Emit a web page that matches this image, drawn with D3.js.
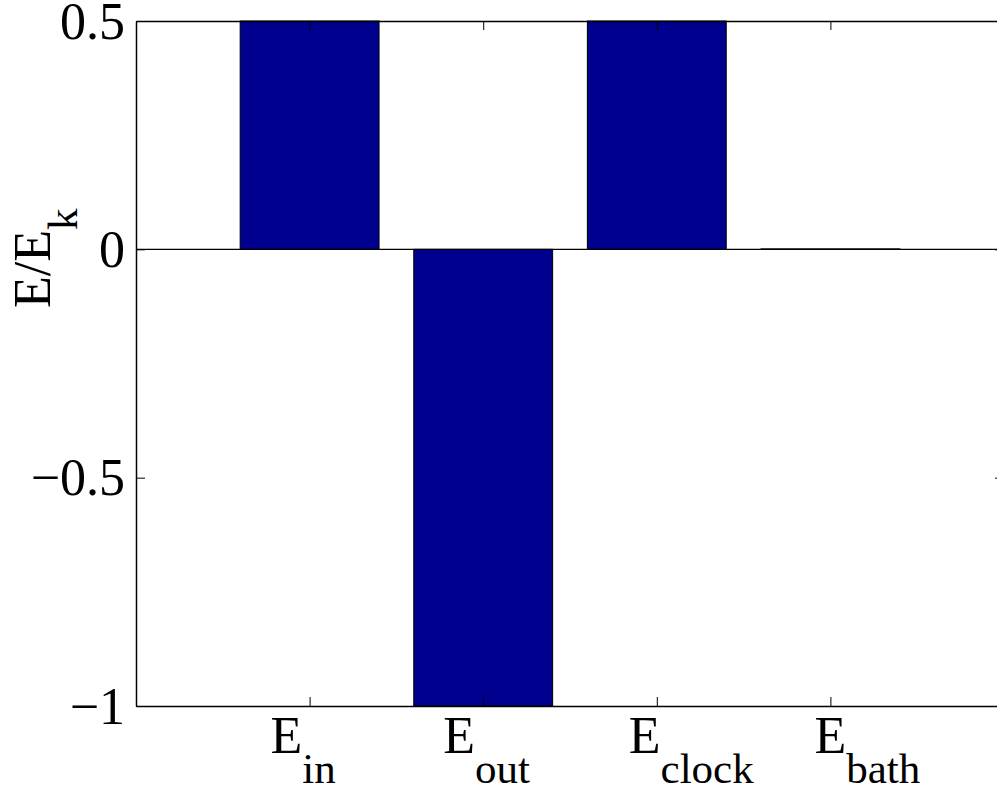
<!DOCTYPE html>
<html>
<head>
<meta charset="utf-8">
<script src="https://cdn.jsdelivr.net/npm/d3@7/dist/d3.min.js"></script>
<style>
  html, body { margin: 0; padding: 0; background: #fff; overflow: hidden; }
  svg { display: block; }
</style>
</head>
<body>
<svg id="chart" width="997" height="792"></svg>
<script>
// Energy balance, normalised by E_k
const categories = ["in", "out", "clock", "bath"];   // subscripts of E
const energies   = [0.5, -1.0, 0.5, 0.001];
const yTicks     = [-1, -0.5, 0, 0.5];

// layout
const plot = { left: 136, top: 21, bottom: 706, unit: 173.6 };
const barFill = "#00008f";
const serif = "Liberation Serif";
const mainSize = 52, subSize = 43;
const labelNudge = [-39, -40, -28, -16];   // horizontal shift of each tick label's "E"

const svg = d3.select("#chart");

const x = d3.scaleLinear()
  .domain([0, categories.length + 1])
  .range([plot.left, plot.left + plot.unit * (categories.length + 1)]);
const y = d3.scaleLinear()
  .domain([-1, 0.5])
  .range([plot.bottom, plot.top]);

const idx = categories.map((d, i) => i + 1);
const barW = x(0.8) - x(0);

// bars
svg.append("g").selectAll("rect")
  .data(energies)
  .join("rect")
  .attr("x", (d, i) => x(idx[i]) - barW / 2)
  .attr("width", barW)
  .attr("y", d => y(Math.max(d, 0)))
  .attr("height", d => Math.abs(y(d) - y(0)))
  .attr("fill", barFill)
  .attr("stroke", "#000")
  .attr("stroke-width", 1);

// baseline at zero
svg.append("line")
  .attr("x1", x(0)).attr("x2", x(categories.length + 1))
  .attr("y1", y(0)).attr("y2", y(0))
  .attr("stroke", "#000").attr("stroke-width", 1.2);

const fmt = v => (v < 0 ? "\u2212" : "") + d3.format("")(Math.abs(v));

// left axis with labels, ticks pointing inward
const gl = svg.append("g").attr("transform", `translate(${plot.left},0)`)
  .call(d3.axisLeft(y).tickValues(yTicks).tickSizeInner(-9).tickSizeOuter(0)
    .tickPadding(11).tickFormat(fmt));
gl.attr("font-family", serif);
gl.selectAll("text")
  .attr("font-family", serif)
  .attr("font-size", mainSize)
  .attr("fill", "#000")
  .attr("dy", "0.33em");

// right axis (ticks only)
svg.append("g").attr("transform", `translate(${x(categories.length + 1)},0)`)
  .call(d3.axisRight(y).tickValues(yTicks).tickSizeInner(-9).tickSizeOuter(0).tickFormat(""));

// bottom axis, ticks pointing up
svg.append("g").attr("transform", `translate(0,${plot.bottom})`)
  .call(d3.axisBottom(x).tickValues(idx).tickSizeInner(-9).tickSizeOuter(0).tickFormat(""));

// top axis, ticks pointing down
svg.append("g").attr("transform", `translate(0,${plot.top})`)
  .call(d3.axisTop(x).tickValues(idx).tickSizeInner(-9).tickSizeOuter(0).tickFormat(""));

svg.selectAll(".domain").attr("stroke", "#000").attr("stroke-width", 1.5);
svg.selectAll(".tick line").attr("stroke", "#000").attr("stroke-width", 1);

// category labels: "E" followed by a lowered, smaller subscript
const labels = svg.append("g").attr("font-family", serif).attr("fill", "#000");
categories.forEach((sub, i) => {
  const x0 = x(idx[i]) + labelNudge[i];
  const e = labels.append("text")
    .attr("x", x0).attr("y", 753)
    .attr("font-family", serif).attr("font-size", mainSize)
    .text("E");
  const w = e.node().getComputedTextLength();
  labels.append("text")
    .attr("x", x0 + w).attr("y", 783)
    .attr("font-family", serif).attr("font-size", subSize)
    .text(sub);
});

// y-axis title, rotated
const yt = svg.append("g")
  .attr("transform", "translate(50,308) rotate(-90)")
  .attr("font-family", serif).attr("fill", "#000");
const ytMain = yt.append("text")
  .attr("x", 0).attr("y", 0)
  .attr("font-family", serif).attr("font-size", mainSize)
  .text("E/E");
yt.append("text")
  .attr("x", ytMain.node().getComputedTextLength()).attr("y", 27)
  .attr("font-family", serif).attr("font-size", subSize)
  .text("k");
</script>
</body>
</html>
